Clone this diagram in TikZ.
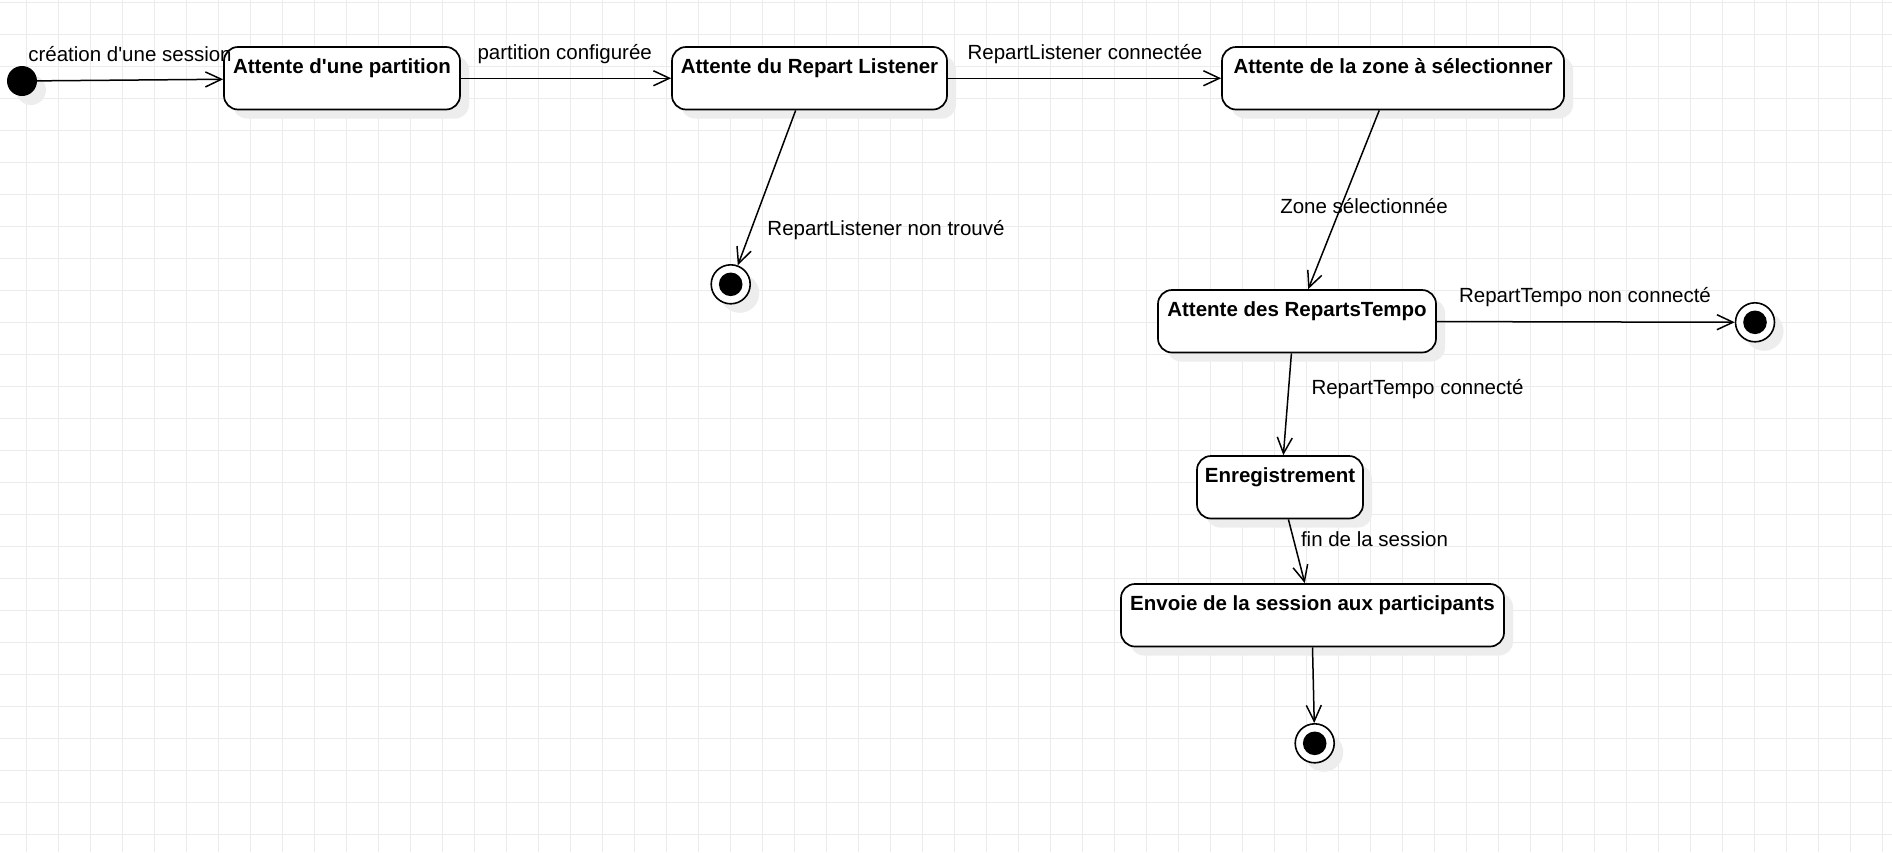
\documentclass[tikz,border=0pt]{standalone}
\usepackage{fontspec}
\setmainfont{Liberation Sans}
\usetikzlibrary{arrows.meta,calc,shadows}

\tikzset{
    ombre/.style={drop shadow={shadow xshift=9pt,shadow yshift=-9pt,fill=black!7,opacity=1}},
    etat/.style={draw,line width=1.7pt,rounded corners=14pt,fill=white,ombre,
        font=\bfseries\fontsize{20.5}{24}\selectfont,
        inner xsep=0pt,inner ysep=0pt,text height=26.5pt,text depth=36pt},
    debut/.style={circle,fill=black,minimum size=30pt,inner sep=0pt,ombre},
    fin/.style={circle,draw,line width=1.6pt,fill=white,minimum size=39pt,inner sep=0pt,ombre,
        path picture={\fill[black] (path picture bounding box.center) circle (11.8pt);}},
    trans/.style={line width=1.5pt,-{Straight Barb[length=16pt,width=15pt,line width=1.5pt]}},
    etiq/.style={font=\fontsize{20.5}{24}\selectfont,anchor=base,inner sep=0pt},
    grille/.style={draw=black!8,line width=1pt}
}

\begin{document}
\begin{tikzpicture}[x=1pt,y=-1pt]
    \useasboundingbox (0,0) rectangle (1892,852);
    \fill[white] (0,0) rectangle (1892,852);

    % Grid
    \foreach \gx in {26.3,58.3,...,1892}
        \draw[grille] (\gx,0) -- (\gx,852);
    \foreach \gy in {2,34,...,852}
        \draw[grille] (0,\gy) -- (1892,\gy);

    % States
    \node[debut] (init) at (22,81) {};
    \node[etat,minimum width=236pt] (b1) at (342,78.25) {Attente d\textquotesingle une partition};
    \node[etat,minimum width=275pt] (b2) at (809.5,78.25) {Attente du Repart Listener};
    \node[etat,minimum width=342pt] (b3) at (1393,78.25) {Attente de la zone à sélectionner};
    \node[etat,minimum width=278pt] (b4) at (1297,321.25) {Attente des RepartsTempo};
    \node[etat,minimum width=166pt] (b5) at (1280,487.25) {Enregistrement};
    \node[etat,minimum width=383pt] (b6) at (1312.5,615.25) {Envoie de la session aux participants};

    % Final states
    \node[fin] (fin1) at (730.7,284.3) {};
    \node[fin] (fin2) at (1755,322.3) {};
    \node[fin] (fin3) at (1314.7,743.3) {};

    % Transitions
    \draw[trans] (init) -- (b1);
    \draw[trans] (b1) -- (b2);
    \draw[trans] (b2) -- (b3);
    \draw[trans] ($(b2.south west)!.45!(b2.south east)$) -- (fin1);
    \draw[trans] ($(b3.south west)!.46!(b3.south east)$) -- ($(b4.north west)!.54!(b4.north east)$);
    \draw[trans] (b4) -- (fin2);
    \draw[trans] ($(b4.south west)!.48!(b4.south east)$) -- ($(b5.north west)!.52!(b5.north east)$);
    \draw[trans] ($(b5.south west)!.55!(b5.south east)$) -- ($(b6.north west)!.48!(b6.north east)$);
    \draw[trans] ($(b6.south west)!.5!(b6.south east)$) -- (fin3);

    % Labels for transitions
    \node[etiq] (e1) at (130,61) {création d\textquotesingle une session};
    \node[etiq] (e2) at (564.7,59.3) {partition configurée};
    \node[etiq] (e3) at (1085,59.3) {RepartListener connectée};
    \node[etiq] (e4) at (886,235) {RepartListener non trouvé};
    \node[etiq] (e5) at (1364,213.3) {Zone sélectionnée};
    \node[etiq] (e6) at (1585,302.3) {RepartTempo non connecté};
    \node[etiq] (e7) at (1417.5,394) {RepartTempo connecté};
    \node[etiq] (e8) at (1374.5,546.7) {fin de la session};
\end{tikzpicture}
\end{document}
